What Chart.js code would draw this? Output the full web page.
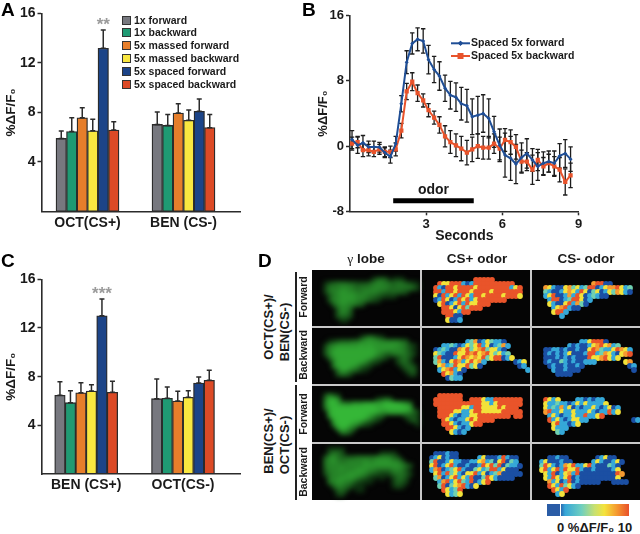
<!DOCTYPE html>
<html>
<head>
<meta charset="utf-8">
<title>Odor responses</title>
<script src="https://cdn.jsdelivr.net/npm/chart.js@4"></script>
<style>
  html, body { margin: 0; padding: 0; background: #fff; }
  body { width: 640px; height: 534px; position: relative; overflow: hidden; font-family: "Liberation Sans", Arial, sans-serif; font-weight: bold; color: #1a1a1a; }
  canvas { position: absolute; }
  .t { position: absolute; white-space: nowrap; line-height: 1; }
  .c { transform: translate(-50%, -50%); }
  .rot { transform: translate(-50%, -50%) rotate(-90deg); }
  .letter { font-size: 19px; color: #000; }
  .key { position: absolute; left: 122px; width: 7px; height: 7px; border: 1px solid #333; }
  .gap { position: absolute; background: #c9c9c9; z-index: 3; }
  .rule { position: absolute; background: #222; width: 1.5px; left: 295px; }
</style>
</head>
<body>
<canvas id="chartA" width="270" height="238" style="left:0;top:0"></canvas>
<canvas id="chartB" width="332" height="245" style="left:308px;top:0"></canvas>
<canvas id="chartC" width="255" height="245" style="left:0;top:250px"></canvas>

<div id="panelD" style="position:absolute;left:312px;top:270px;width:328px;height:230px;background:#050505"></div>
<canvas id="chartGreen" width="108" height="230" style="left:312px;top:270px;filter:blur(2.6px)"></canvas>
<canvas id="chartHeat" width="218" height="230" style="left:422px;top:270px;filter:blur(0.7px)"></canvas>
<div class="gap" style="left:420px;top:270px;width:2px;height:230px"></div>
<div class="gap" style="left:530px;top:270px;width:2px;height:230px"></div>
<div class="gap" style="left:312px;top:326px;width:328px;height:2px"></div>
<div class="gap" style="left:312px;top:384px;width:328px;height:2px"></div>
<div class="gap" style="left:312px;top:442px;width:328px;height:2px"></div>

<div class="t letter" style="left:1px;top:0">A</div>
<div class="t letter" style="left:302px;top:0">B</div>
<div class="t letter" style="left:1px;top:251px">C</div>
<div class="t letter" style="left:258px;top:251px">D</div>

<div id="legendA"></div>

<div class="t c" style="left:366px;top:259px;font-size:13.5px"><span style="font-family:'Liberation Serif';font-weight:normal">γ</span> lobe</div>
<div class="t c" style="left:477px;top:259px;font-size:13.5px">CS+ odor</div>
<div class="t c" style="left:586px;top:259px;font-size:13.5px">CS- odor</div>

<div class="t rot" style="left:268px;top:327px;font-size:13px">OCT(CS+)/</div>
<div class="t rot" style="left:284px;top:332px;font-size:13px">BEN(CS-)</div>
<div class="t rot" style="left:268px;top:441px;font-size:13px">BEN(CS+)/</div>
<div class="t rot" style="left:284px;top:445px;font-size:13px">OCT(CS-)</div>
<div class="t rot" style="left:303px;top:297px;font-size:10.5px">Forward</div>
<div class="t rot" style="left:303px;top:355px;font-size:10.5px">Backward</div>
<div class="t rot" style="left:303px;top:414px;font-size:10.5px">Forward</div>
<div class="t rot" style="left:303px;top:472px;font-size:10.5px">Backward</div>
<div class="rule" style="top:272px;height:110px"></div>
<div class="rule" style="top:385px;height:115px"></div>

<div style="position:absolute;left:547px;top:504px;width:82px;height:12px;background:linear-gradient(to right,#2a5ca6 0%,#2a5ca6 16%,#36a6d8 22%,#6fcfc0 42%,#c8e070 58%,#f4e33c 70%,#f59a30 85%,#e8502a 100%)"></div>
<div style="position:absolute;left:560px;top:504px;width:1px;height:12px;background:#fff"></div>
<div class="t" style="left:557px;top:521px;font-size:13px">0 %ΔF/F₀ 10</div>

<script>
// panel A + C bars
var seriesNames = ['1x forward', '1x backward', '5x massed forward', '5x massed backward', '5x spaced forward', '5x spaced backward'];
var seriesColors = ['#77787f', '#1f9a73', '#e67e2b', '#f9e740', '#1c4488', '#dc4a26'];

var catsA = ['OCT(CS+)', 'BEN (CS-)'];
var octA = [5.9, 6.45, 7.57, 6.52, 13.18, 6.58];
var octAErr = [0.6, 1.12, 0.81, 0.92, 1.48, 0.67];
var benA = [7.03, 6.95, 7.95, 7.36, 8.09, 6.77];
var benAErr = [1.0, 0.89, 0.75, 0.84, 0.99, 1.07];

var catsC = ['BEN (CS+)', 'OCT(CS-)'];
var benC = [6.47, 5.86, 6.68, 6.82, 13.0, 6.71];
var benCErr = [1.12, 0.99, 0.82, 0.52, 1.38, 0.91];
var octC = [6.19, 6.22, 6.0, 6.3, 7.48, 7.7];
var octCErr = [1.62, 0.93, 0.79, 0.55, 0.49, 0.82];

var barTicks = [4, 8, 12, 16];

// panel B traces
var seconds = [0.08, 0.30, 0.51, 0.73, 0.94, 1.16, 1.37, 1.59, 1.80, 2.02, 2.23, 2.45, 2.66, 2.88, 3.09, 3.31, 3.52, 3.74, 3.95, 4.17, 4.38, 4.60, 4.81, 5.03, 5.24, 5.46, 5.67, 5.89, 6.10, 6.32, 6.53, 6.75, 6.96, 7.18, 7.39, 7.61, 7.82, 8.04, 8.25, 8.47, 8.68];
var forward = [0.8, 0.1, 0.4, -0.1, -0.1, -0.15, -0.8, -1.3, 0.3, 5.2, 10.3, 12.6, 13.1, 12.9, 10.6, 9.4, 8.6, 7.1, 6.25, 6.0, 5.2, 4.95, 3.6, 3.8, 4.0, 3.4, 1.75, 0.1, -1.1, -1.5, -2.2, -1.4, -0.9, -1.7, -2.5, -2.1, -1.9, -2.1, -1.2, -0.9, -1.6];
var forwardErr = [1.1, 1, 0.9, 0.7, 0.7, 0.6, 0.6, 0.8, 0.9, 1.0, 1.4, 1.3, 1.4, 1.5, 1.75, 1.6, 1.75, 1.6, 1.7, 1.75, 2, 2, 2.2, 2.3, 2.3, 2.4, 1.9, 2, 2.7, 2.7, 2.4, 1.8, 1.8, 1.4, 1.7, 1.4, 1.3, 1.5, 1.5, 1.7, 1.5];
var backward = [0.3, 0.5, -0.5, -0.5, -0.7, -0.4, -0.7, -0.7, -0.4, 1.9, 6.7, 7.9, 6.5, 5.6, 4.4, 3.5, 2.6, 1.2, 0.5, 0.1, -0.3, -0.8, -0.4, 0, -0.2, -0.2, 0.3, -0.3, 0.75, 0.5, -0.1, -1.9, -1.9, -2.9, -1.7, -2.5, -2.1, -2.5, -2.9, -4.4, -3.6];
var backwardErr = [0.8, 0.7, 0.8, 0.7, 0.6, 0.6, 0.6, 0.7, 0.8, 0.9, 1, 1.1, 1, 0.8, 0.8, 0.8, 1, 1.3, 1.4, 1.4, 1.5, 1.5, 1.5, 1.5, 1.4, 1.4, 1.2, 1.4, 1.4, 1.5, 1.5, 1.4, 1.1, 1.8, 1.3, 1.1, 1.1, 1.2, 1.5, 1.6, 1.5];
var odorSpan = [1.7, 4.87];
var odorLevel = -6.7;

// panel D (1 char = 1 cell, '.' = nothing)
var lobeCells = [
  ['', '', '...............2454.222', '...134555443334566554554321', '...255566654555666654555542', '...256677665566665545443', '....35677776665543222', '....3667777665432', '.....46776654', '......4665', '......3664', '......3553', '.......22', ''],
  ['', '', '............246532', '....12344455677776666654', '...25677777787877777776532', '...36788888888887777766531', '...36888888888887654566542', '....478888888887542..2453', '.....588888887532....2452', '.....5888887542.......2442', '......58875421.........244', '......3553..............23', '', ''],
  ['', '', '...3642', '...5897.........2354', '...6998665777888889999875', '...5899999999999889999998', '....899999999999987888887531', '....79999999998754.....3432', '.....899999998642.......242', '.....6999987532...........2', '......79975', '.......664', '', ''],
  ['', '....2222', '....3553.........2222', '...4675444455555666643', '...56765566667667777664', '...5666666666777777777653', '...466676667776655556663', '...3566667777654322255542', '....566777765421.1..2453', '....56776653211.....2442', '.....46654211.......132', '......453..11', '......23', '']
];
var plusCells = [
  ['', '', '.............55555', '....5335551015555555555', '...5105535555355555555135', '...5515535553555535555555', '...3051351531553555535553', '...015301535135555555', '....3501351533555', '.....5530352555', '.....5553155', '......5500', '......3001', ''],
  ['', '', '', '...........1240132110', '.....11210132351301241', '...012100435234523310', '...3210053354534532312', '...25000135434352355013', '...2410354135341.......013', '....34125335230.........01', '....1345130...............1', '.....53410', '......0211', ''],
  ['', '', '....555555', '...5555555..5553115555555', '...5555555555553313555555', '....55555533155333353555', '....555533113553333355555', '....555310113355555555.55', '.....5310113535555', '.....5531011355', '......553101', '.......3101', '', ''],
  ['', '', '...000100', '..0130100.....1300015100', '..2500131100113412035021', '..35013510010015352502110', '..1450123510023125513000', '...3515231033513012400000', '...24013513150025310000', '....1451352150135', '....2502345103', '.....53125', '......3123', '']
];
var minusCells = [
  ['', '', '', '...............45500', '...4310034231255013445312', '...2100134315302301324310', '...1350014153012100', '....15501255301', '....3100351420', '.....1345100', '.....3551', '.......1', '', ''],
  ['', '', '', '............1135550', '.........1010013453412', '...0011010010035421135431', '...0101013000155124310345', '...0001010100053345313', '...0100210100111.......34', '....010010010...........01', '.....1001000.............0', '......0000', '', ''],
  ['', '', '', '...5313....1101011', '...3112110131311113', '...3121413010113101301', '...4511311311131011513', '....13101131151135', '....5131013311...........01', '.....3511013', '.....3111', '......21', '', ''],
  ['', '', '', '....00100.......01300', '..13000100.....13100130', '..25310143511351000210', '..35135153351001000013', '...31501341500000000054', '...3153135010000000003', '....4130150100000...0000', '....53152310', '.....5315', '......13', '']
];
var heatColors = ['#1b4fa3', '#35a8d8', '#6fd0b0', '#f2e23a', '#f59a30', '#e9542a'];

function plainTickFont(size) {
  return { family: '"Liberation Sans", Arial, sans-serif', weight: 'bold', size: size };
}

// error whiskers, through the chart scales
function whisker(ctx, x, yTop, yBottom, cap) {
  ctx.beginPath();
  ctx.moveTo(x, yTop);
  ctx.lineTo(x, yBottom);
  ctx.moveTo(x - cap, yTop);
  ctx.lineTo(x + cap, yTop);
  if (yBottom !== yTop) {
    ctx.moveTo(x - cap, yBottom);
    ctx.lineTo(x + cap, yBottom);
  }
  ctx.stroke();
}

function makeBars(id, cats, groupOne, groupOneErr, groupTwo, groupTwoErr, geo, stars) {
  var slot = geo.barWidth / geo.groupGap;
  var xMin = (geo.left - geo.firstCenter) / geo.groupGap;
  var xMax = (geo.right - geo.firstCenter) / geo.groupGap;

  var datasets = seriesNames.map(function (name, i) {
    return {
      label: name,
      data: [
        { x: 0 + (i - 2.5) * slot, y: groupOne[i] },
        { x: 1 + (i - 2.5) * slot, y: groupTwo[i] }
      ],
      backgroundColor: seriesColors[i],
      borderColor: '#2b2b2b',
      borderWidth: 1.3,
      borderSkipped: false,
      barThickness: geo.barWidth,
      grouped: false
    };
  });

  var errorPlugin = {
    id: 'barErrors',
    afterDatasetsDraw: function (chart) {
      var ctx = chart.ctx;
      var xs = chart.scales.x, ys = chart.scales.y;
      ctx.save();
      ctx.strokeStyle = '#2b2b2b';
      ctx.lineWidth = 1.5;
      seriesNames.forEach(function (n, i) {
        var px = xs.getPixelForValue((i - 2.5) * slot);
        whisker(ctx, px, ys.getPixelForValue(groupOne[i] + groupOneErr[i]), ys.getPixelForValue(groupOne[i]), 2.5);
        px = xs.getPixelForValue(1 + (i - 2.5) * slot);
        whisker(ctx, px, ys.getPixelForValue(groupTwo[i] + groupTwoErr[i]), ys.getPixelForValue(groupTwo[i]), 2.5);
      });
      // significance stars over the spaced forward bar
      ctx.fillStyle = '#9b9b9b';
      ctx.font = 'bold 17px "Liberation Sans"';
      ctx.textAlign = 'center';
      ctx.textBaseline = 'middle';
      ctx.fillText(stars, xs.getPixelForValue(1.5 * slot), ys.getPixelForValue(groupOne[4] + groupOneErr[4]) - 5);
      ctx.restore();
    }
  };

  return new Chart(document.getElementById(id), {
    type: 'bar',
    data: { datasets: datasets },
    plugins: [errorPlugin],
    options: {
      responsive: false,
      animation: false,
      devicePixelRatio: 1,
      layout: { padding: { top: geo.top, right: document.getElementById(id).width - geo.right, left: 0, bottom: 0 } },
      plugins: { legend: { display: false }, tooltip: { enabled: false } },
      scales: {
        x: {
          type: 'linear',
          min: xMin,
          max: xMax,
          offset: false,
          afterBuildTicks: function (scale) { scale.ticks = [{ value: 0 }, { value: 1 }]; },
          afterFit: function (scale) { scale.height = document.getElementById(id).height - geo.bottom; },
          ticks: {
            autoSkip: false,
            maxRotation: 0,
            padding: 3,
            color: '#1a1a1a',
            font: plainTickFont(14),
            callback: function (v) { return cats[v]; }
          },
          grid: { display: false, drawTicks: false, tickLength: 0 },
          border: { display: true, color: '#2b2b2b', width: 1.6 }
        },
        y: {
          min: 0,
          max: 16,
          afterBuildTicks: function (scale) { scale.ticks = barTicks.map(function (v) { return { value: v }; }); },
          afterFit: function (scale) { scale.width = geo.left; },
          ticks: { padding: 2, color: '#1a1a1a', font: plainTickFont(14) },
          grid: { drawOnChartArea: false, drawTicks: true, tickLength: 4, color: '#2b2b2b', tickWidth: 1.5 },
          border: { display: true, color: '#2b2b2b', width: 1.6 },
          title: { display: true, text: '%ΔF/F₀', color: '#1a1a1a', font: plainTickFont(13.5), padding: { top: 3, bottom: 0 } }
        }
      }
    }
  });
}

makeBars('chartA', catsA, octA, octAErr, benA, benAErr,
  { left: 41.5, right: 240, top: 13.3, bottom: 211.5, firstCenter: 87.5, groupGap: 96, barWidth: 10.5 }, '**');
makeBars('chartC', catsC, benC, benCErr, octC, octCErr,
  { left: 41.5, right: 240, top: 29.3, bottom: 224, firstCenter: 86.2, groupGap: 96.8, barWidth: 10.5 }, '***');

// legend of panel A
var legendBox = document.getElementById('legendA');
seriesNames.forEach(function (name, i) {
  var y = 20 + i * 12.8;
  var key = document.createElement('div');
  key.className = 'key';
  key.style.top = (y - 4.5) + 'px';
  key.style.background = seriesColors[i];
  legendBox.appendChild(key);
  var label = document.createElement('div');
  label.className = 't';
  label.style.left = '134px';
  label.style.top = (y - 5.5) + 'px';
  label.style.fontSize = '10.5px';
  label.textContent = name;
  legendBox.appendChild(label);
});

// panel B
var lineBlue = '#1f4e96', lineRed = '#e8532b';
var tracePlugin = {
  id: 'traceExtras',
  beforeDatasetsDraw: function (chart) {
    var ctx = chart.ctx, xs = chart.scales.x, ys = chart.scales.y;
    ctx.save();
    ctx.strokeStyle = '#1c1c1c';
    ctx.lineWidth = 1.3;
    seconds.forEach(function (t, i) {
      whisker(ctx, xs.getPixelForValue(t), ys.getPixelForValue(forward[i] + forwardErr[i]), ys.getPixelForValue(forward[i] - forwardErr[i]), 2.2);
      whisker(ctx, xs.getPixelForValue(t), ys.getPixelForValue(backward[i] + backwardErr[i]), ys.getPixelForValue(backward[i] - backwardErr[i]), 2.2);
    });
    ctx.restore();
  },
  afterDatasetsDraw: function (chart) {
    var ctx = chart.ctx, xs = chart.scales.x, ys = chart.scales.y;
    ctx.save();
    ctx.fillStyle = '#1a1a1a';
    ctx.font = 'bold 14px "Liberation Sans"';
    ctx.textAlign = 'center';
    ctx.textBaseline = 'middle';
    ctx.fillText('odor', xs.getPixelForValue((odorSpan[0] + odorSpan[1]) / 2), ys.getPixelForValue(odorLevel) - 11);
    // legend
    var rows = [[43.3, lineBlue, 'Spaced 5x forward', 'diamond'], [56, lineRed, 'Spaced 5x backward', 'square']];
    rows.forEach(function (r) {
      ctx.strokeStyle = r[1];
      ctx.fillStyle = r[1];
      ctx.lineWidth = 2;
      ctx.beginPath();
      ctx.moveTo(143, r[0]);
      ctx.lineTo(162, r[0]);
      ctx.stroke();
      if (r[3] === 'diamond') {
        Chart.helpers.drawPoint(ctx, { pointStyle: 'rectRot', radius: 2.5, borderWidth: 0 }, 152.5, r[0]);
        ctx.fill();
      } else {
        ctx.fillRect(149.5, r[0] - 3, 6, 6);
      }
      ctx.fillStyle = '#1a1a1a';
      ctx.font = 'bold 10.5px "Liberation Sans"';
      ctx.textAlign = 'left';
      ctx.fillText(r[2], 163, r[0]);
    });
    ctx.restore();
  }
};

new Chart(document.getElementById('chartB'), {
  type: 'line',
  data: {
    labels: seconds,
    datasets: [
      {
        label: 'Spaced 5x forward',
        data: seconds.map(function (t, i) { return { x: t, y: forward[i] }; }),
        borderColor: lineBlue, backgroundColor: lineBlue, borderWidth: 2,
        pointStyle: 'rectRot', pointRadius: 2, pointBorderWidth: 0, tension: 0
      },
      {
        label: 'Spaced 5x backward',
        data: seconds.map(function (t, i) { return { x: t, y: backward[i] }; }),
        borderColor: lineRed, backgroundColor: lineRed, borderWidth: 2,
        pointStyle: 'rect', pointRadius: 3, pointBorderWidth: 0, tension: 0
      },
      {
        label: 'odor',
        data: [{ x: odorSpan[0], y: odorLevel }, { x: odorSpan[1], y: odorLevel }],
        borderColor: '#000', borderWidth: 5, pointRadius: 0, borderCapStyle: 'butt'
      }
    ]
  },
  plugins: [tracePlugin],
  options: {
    responsive: false,
    animation: false,
    devicePixelRatio: 1,
    layout: { padding: { top: 15.7, right: 332 - 270.7, left: 0, bottom: 0 } },
    plugins: { legend: { display: false }, tooltip: { enabled: false } },
    scales: {
      x: {
        type: 'linear',
        min: 0,
        max: 9,
        afterBuildTicks: function (scale) { scale.ticks = [{ value: 3 }, { value: 6 }, { value: 9 }]; },
        afterFit: function (scale) { scale.height = 245 - 211.3; },
        ticks: { autoSkip: false, maxRotation: 0, padding: 1, color: '#1a1a1a', font: plainTickFont(13) },
        grid: { drawOnChartArea: false, drawTicks: true, tickLength: 4, color: '#2b2b2b', tickWidth: 1.5 },
        border: { display: true, color: '#2b2b2b', width: 1.6 },
        title: { display: true, text: 'Seconds', color: '#1a1a1a', font: plainTickFont(14), padding: { top: 0, bottom: 0 } }
      },
      y: {
        min: -8,
        max: 16,
        afterBuildTicks: function (scale) { scale.ticks = [-8, 0, 8, 16].map(function (v) { return { value: v }; }); },
        afterFit: function (scale) { scale.width = 42; },
        ticks: { padding: 2, color: '#1a1a1a', font: plainTickFont(13) },
        grid: { drawOnChartArea: false, drawTicks: true, tickLength: 4, color: '#2b2b2b', tickWidth: 1.5 },
        border: { display: true, color: '#2b2b2b', width: 1.6 },
        title: { display: true, text: '%ΔF/F₀', color: '#1a1a1a', font: plainTickFont(13), padding: { top: 8, bottom: 0 } }
      }
    }
  }
});

// panel D: image cells as round points on hidden scales, so the outlines stay soft
function cellPoints(columns) {
  var pts = [];
  columns.forEach(function (col) {
    col.panels.forEach(function (rows, r) {
      rows.forEach(function (row, j) {
        for (var k = 0; k < row.length; k++) {
          if (row[k] === '.') continue;
          pts.push({ x: col.shift + k + 0.5, y: r * 14.5 + j + 0.5, v: Number(row[k]) });
        }
      });
    });
  });
  return pts;
}

function makeCells(id, columns, xUnits, colorOf, radius) {
  var pts = cellPoints(columns);
  return new Chart(document.getElementById(id), {
    type: 'scatter',
    data: {
      datasets: [{
        data: pts,
        pointStyle: 'circle',
        pointRadius: radius,
        pointBorderWidth: 0,
        pointBackgroundColor: pts.map(colorOf),
        clip: false
      }]
    },
    options: {
      responsive: false,
      animation: false,
      devicePixelRatio: 1,
      layout: { autoPadding: false },
      plugins: { legend: { display: false }, tooltip: { enabled: false } },
      scales: {
        x: { type: 'linear', display: false, min: 0, max: xUnits },
        y: { type: 'linear', display: false, min: 0, max: 57.5, reverse: true }
      }
    }
  });
}

makeCells('chartGreen', [{ shift: 0, panels: lobeCells }], 27, function (p) {
  return 'rgb(' + (8 + p.v * 5) + ',' + (30 + p.v * 17) + ',' + (10 + p.v * 5) + ')';
}, 3.0);

makeCells('chartHeat', [{ shift: 0, panels: plusCells }, { shift: 27.5, panels: minusCells }], 54.5, function (p) {
  return heatColors[p.v];
}, 2.9);
</script>
</body>
</html>
